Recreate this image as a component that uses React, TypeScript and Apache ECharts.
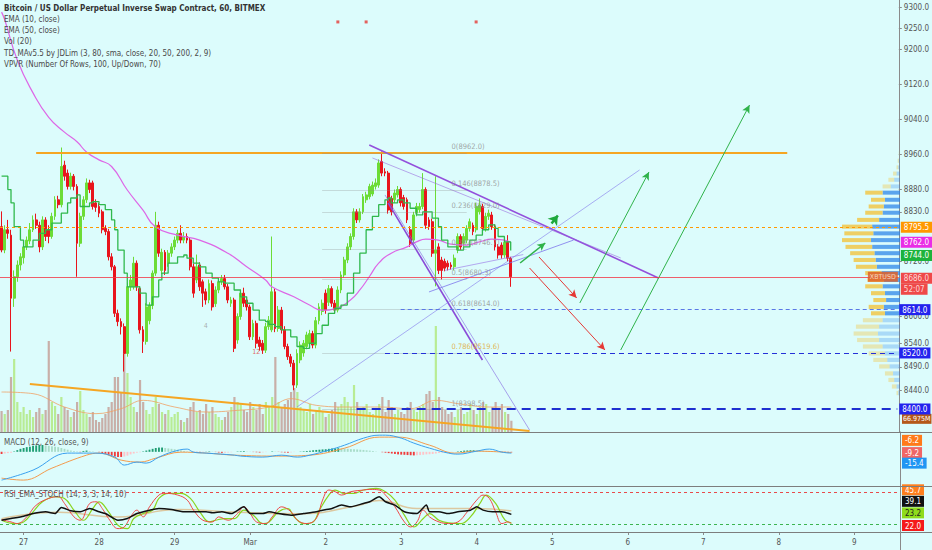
import React, { useEffect, useRef } from "react";
import * as echarts from "echarts";

const FONT = '"Liberation Sans Narrow", "DejaVu Sans Condensed", "Liberation Sans", sans-serif';
const BG = "#dcfcfc";
const AXIS = "#8a8a8a";

// ---------- axes ----------
const FIRST_HOUR = -7;
const LAST_HOUR = 278;
const DAY_LABELS = ["27", "28", "29", "Mar", "2", "3", "4", "5", "6", "7", "8", "9"];
const PRICE_TICKS = [8440, 8490, 8540, 8600, 8720, 8830, 8880, 8960, 9040, 9120, 9200, 9250, 9300];
const PRICE_MIN = 8351.2;
const PRICE_MAX = 9316.6;

// ---------- candles (hourly) ----------
const OPEN = [
  8797, 8745, 8790, 8778, 8639, 8686, 8712, 8728, 8752, 8765,
  8790, 8812, 8800, 8752, 8812, 8790, 8775, 8820, 8857, 8846,
  8935, 8917, 8887, 8910, 8887, 8760, 8820, 8857, 8895, 8895,
  8850, 8842, 8830, 8793, 8786, 8730, 8708, 8606, 8588, 8577,
  8519, 8664, 8664, 8716, 8660, 8570, 8545, 8590, 8623, 8694,
  8800, 8700, 8740, 8716, 8738, 8752, 8767, 8782, 8767, 8775,
  8767, 8708, 8679, 8712, 8675, 8653, 8635, 8671, 8627, 8657,
  8675, 8682, 8664, 8628, 8635, 8548, 8599, 8650, 8635, 8620,
  8555, 8584, 8548, 8541, 8526, 8577, 8570, 8653, 8573, 8613,
  8570, 8534, 8512, 8498, 8451, 8505, 8520, 8534, 8540, 8562,
  8537, 8590, 8610, 8650, 8630, 8660, 8628, 8613, 8657, 8690,
  8723, 8752, 8775, 8830, 8812, 8830, 8857, 8864, 8870, 8887,
  8890, 8943, 8920, 8917, 8860, 8857, 8868, 8880, 8862, 8857,
  8790, 8767, 8827, 8835, 8842, 8880, 8812, 8808, 8738, 8752,
  8723, 8720, 8716, 8712, 8708, 8745, 8775, 8760, 8767, 8793,
  8800, 8790, 8830, 8842, 8793, 8820, 8823, 8797, 8752, 8756,
  8734, 8762, 8727,
];
const CLOSE = [
  8745, 8790, 8782, 8639, 8686, 8712, 8730, 8752, 8767, 8790,
  8812, 8800, 8752, 8812, 8775, 8775, 8820, 8857, 8846, 8932,
  8910, 8887, 8910, 8887, 8760, 8820, 8857, 8895, 8880, 8842,
  8840, 8827, 8790, 8786, 8730, 8708, 8606, 8588, 8577, 8519,
  8664, 8679, 8716, 8664, 8570, 8545, 8620, 8623, 8694, 8800,
  8738, 8740, 8700, 8738, 8752, 8767, 8782, 8767, 8775, 8767,
  8708, 8650, 8708, 8664, 8650, 8635, 8671, 8620, 8657, 8675,
  8682, 8664, 8635, 8635, 8530, 8599, 8650, 8628, 8620, 8555,
  8584, 8541, 8534, 8526, 8577, 8591, 8653, 8573, 8613, 8570,
  8534, 8512, 8498, 8451, 8519, 8537, 8541, 8559, 8562, 8537,
  8590, 8620, 8628, 8613, 8660, 8628, 8613, 8657, 8690, 8723,
  8752, 8775, 8830, 8812, 8830, 8864, 8868, 8887, 8890, 8895,
  8940, 8917, 8917, 8834, 8830, 8872, 8880, 8850, 8842, 8812,
  8760, 8823, 8842, 8842, 8880, 8800, 8797, 8738, 8745, 8700,
  8700, 8705, 8708, 8708, 8727, 8775, 8752, 8775, 8793, 8808,
  8786, 8842, 8845, 8793, 8820, 8827, 8797, 8752, 8734, 8734,
  8762, 8727, 8686,
];
const HIGH = [
  8831, 8800, 8812, 8790, 8700, 8722, 8738, 8760, 8775, 8805,
  8822, 8826, 8808, 8820, 8818, 8800, 8828, 8865, 8866, 8975,
  8945, 8925, 8918, 8915, 8892, 8828, 8865, 8905, 8902, 8900,
  8858, 8850, 8835, 8800, 8792, 8738, 8712, 8614, 8595, 8584,
  8672, 8690, 8730, 8722, 8665, 8578, 8628, 8630, 8700, 8830,
  8808, 8748, 8745, 8745, 8760, 8775, 8790, 8800, 8785, 8782,
  8772, 8715, 8735, 8718, 8680, 8660, 8680, 8678, 8665, 8683,
  8690, 8690, 8670, 8642, 8640, 8606, 8658, 8662, 8642, 8625,
  8592, 8590, 8555, 8548, 8585, 8600, 8775, 8660, 8622, 8620,
  8578, 8540, 8518, 8505, 8528, 8545, 8548, 8566, 8570, 8568,
  8598, 8628, 8636, 8658, 8668, 8665, 8635, 8665, 8698, 8730,
  8760, 8782, 8838, 8836, 8838, 8870, 8875, 8893, 8898, 8905,
  8948, 8966, 8928, 8922, 8866, 8880, 8888, 8885, 8868, 8862,
  8798, 8830, 8850, 8850, 8917, 8885, 8818, 8815, 8910, 8760,
  8730, 8726, 8722, 8718, 8735, 8782, 8780, 8782, 8800, 8815,
  8806, 8850, 8860, 8848, 8828, 8835, 8830, 8802, 8758, 8762,
  8770, 8778, 8730,
];
const LOW = [
  8740, 8738, 8770, 8523, 8620, 8675, 8700, 8715, 8745, 8758,
  8785, 8792, 8740, 8745, 8765, 8760, 8770, 8812, 8838, 8840,
  8900, 8880, 8880, 8878, 8686, 8752, 8812, 8850, 8872, 8835,
  8830, 8818, 8782, 8778, 8722, 8700, 8598, 8578, 8560, 8480,
  8512, 8655, 8658, 8655, 8562, 8520, 8538, 8582, 8615, 8688,
  8730, 8692, 8690, 8708, 8730, 8745, 8760, 8760, 8760, 8760,
  8700, 8640, 8672, 8655, 8620, 8625, 8628, 8612, 8620, 8650,
  8668, 8658, 8628, 8620, 8522, 8540, 8592, 8620, 8612, 8548,
  8548, 8530, 8525, 8518, 8520, 8570, 8565, 8565, 8566, 8562,
  8528, 8505, 8490, 8440, 8445, 8498, 8512, 8528, 8535, 8530,
  8530, 8582, 8602, 8605, 8622, 8620, 8605, 8608, 8650, 8684,
  8716, 8745, 8768, 8805, 8806, 8825, 8850, 8858, 8865, 8880,
  8884, 8910, 8910, 8826, 8822, 8850, 8862, 8842, 8835, 8805,
  8752, 8760, 8820, 8828, 8836, 8792, 8790, 8730, 8665, 8692,
  8680, 8698, 8700, 8702, 8700, 8738, 8745, 8752, 8760, 8786,
  8778, 8784, 8824, 8786, 8786, 8812, 8790, 8744, 8726, 8726,
  8728, 8720, 8664,
];
// volume in millions
const VOLUME = [
  126, 108, 132, 330, 438, 180, 120, 150, 108, 132,
  90, 120, 144, 108, 132, 546, 180, 156, 108, 210,
  150, 132, 90, 120, 180, 246, 132, 108, 90, 120,
  72, 60, 84, 108, 150, 180, 330, 330, 240, 468,
  354, 210, 150, 120, 312, 180, 132, 108, 150, 210,
  168, 120, 108, 132, 90, 108, 120, 72, 60, 84,
  150, 180, 120, 132, 108, 168, 120, 150, 108, 90,
  72, 90, 120, 150, 210, 180, 168, 132, 120, 180,
  150, 132, 168, 108, 180, 150, 210, 450, 180, 150,
  168, 192, 240, 264, 240, 150, 132, 120, 168, 108,
  132, 150, 120, 90, 108, 132, 180, 150, 168, 210,
  180, 150, 282, 180, 132, 150, 168, 120, 108, 132,
  168, 210, 120, 192, 150, 108, 132, 120, 108, 150,
  180, 132, 120, 150, 168, 228, 246, 180, 636, 210,
  150, 132, 108, 120, 90, 132, 150, 108, 120, 168,
  132, 108, 150, 180, 168, 120, 150, 180, 132, 168,
  120, 108, 66.975,
];
const VOL_MA = [[0, 240], [10, 230], [20, 150], [30, 110], [38, 140], [45, 190], [55, 150], [65, 120], [75, 130], [85, 150], [92, 200], [100, 160], [110, 150], [120, 150], [130, 140], [138, 190], [145, 170], [155, 150], [162, 150]];

// ---------- indicators: [candle index, value] ----------
const EMA10 = [[0, 8910], [2, 8880], [3, 8850], [4, 8797], [6, 8767], [7, 8752], [10, 8767], [12, 8782], [14, 8790], [16, 8805], [19, 8827], [21, 8850], [22, 8861], [24, 8868], [25, 8842], [26, 8842], [28, 8850], [29, 8853], [31, 8846], [33, 8835], [35, 8812], [36, 8790], [37, 8745], [39, 8694], [40, 8664], [42, 8664], [44, 8650], [46, 8624], [47, 8624], [48, 8642], [50, 8679], [51, 8694], [53, 8716], [56, 8730], [58, 8734], [59, 8727], [61, 8716], [63, 8708], [65, 8694], [67, 8683], [69, 8675], [71, 8672], [74, 8657], [76, 8642], [78, 8628], [80, 8613], [82, 8591], [84, 8588], [85, 8582], [87, 8577], [89, 8570], [92, 8555], [94, 8534], [96, 8530], [98, 8541], [100, 8562], [102, 8580], [104, 8606], [106, 8617], [108, 8624], [110, 8650], [112, 8694], [114, 8738], [116, 8790], [118, 8820], [120, 8846], [122, 8857], [123, 8861], [124, 8850], [126, 8857], [128, 8850], [130, 8838], [132, 8823], [134, 8830], [136, 8830], [137, 8816], [139, 8797], [140, 8767], [142, 8752], [145, 8745], [147, 8752], [149, 8767], [151, 8778], [153, 8790], [155, 8801], [157, 8793], [158, 8775], [160, 8763], [162, 8744]];
const EMA50 = [[0, 9288], [1, 9270], [5, 9176], [10, 9100], [15, 9044], [20, 9010], [24, 8988], [27, 8965], [31, 8947], [35, 8932], [40, 8879], [45, 8834], [49, 8796], [56, 8778], [63, 8767], [72, 8738], [78, 8708], [84, 8679], [86, 8664], [93, 8642], [98, 8624], [102, 8613], [107, 8618], [111, 8635], [114, 8657], [117, 8686], [120, 8716], [124, 8738], [129, 8752], [132, 8763], [135, 8769], [139, 8767], [143, 8758], [148, 8756], [152, 8763], [156, 8769], [160, 8767], [162, 8762]];
const MACD = [[0, -331], [10, -214], [21, -15], [26, -15], [30, -15], [36, -62], [39, -155], [43, -120], [46, -132], [50, -62], [54, -4], [59, 32], [61, -4], [65, -15], [74, -39], [76, -50], [83, -62], [89, -39], [94, -62], [98, -39], [104, 20], [109, 78], [115, 160], [120, 195], [122, 195], [127, 160], [131, 102], [136, 43], [142, -15], [145, -27], [151, 8], [155, 32], [159, -4], [162, -15.4]];
const SIGNAL = [[0, -308], [7, -331], [16, -191], [27, -39], [31, -15], [38, -97], [44, -120], [49, -74], [57, -4], [65, -15], [74, -39], [88, -50], [98, -39], [109, 43], [120, 172], [126, 172], [136, 78], [144, -15], [151, 8], [162, -9.2]];
const HIST = [
  -25, -20, -15, -10, 5, 20, 35, 45, 55, 60,
  70, 75, 80, 80, 75, 70, 65, 60, 55, 45,
  35, 25, 15, 10, 5, -5, 10, 15, 8, 5,
  2, -5, -15, -25, -35, -45, -55, -60, -60, -55,
  -45, -30, -20, -10, -5, 5, 15, 25, 35, 45,
  50, 50, 45, 40, 35, 30, 25, 15, 10, 5,
  3, -5, -8, -10, -5, 2, 5, 3, -3, -8,
  -12, -10, -8, -5, 0, 4, 6, 8, 5, 2,
  -3, -5, -8, -6, -3, 2, 5, 3, -2, -5,
  -8, -10, -6, -3, 0, 3, 6, 10, 14, 18,
  22, 25, 28, 30, 35, 38, 40, 42, 40, 38,
  35, 32, 30, 28, 25, 22, 18, 14, 10, 5,
  0, -5, -10, -15, -20, -25, -30, -33, -35, -38,
  -40, -42, -40, -38, -35, -30, -28, -25, -20, -15,
  -10, -8, -5, -2, 0, 5, 10, 14, 16, 18,
  18, 16, 14, 12, 10, 8, 5, 3, 0, -2,
  -4, -5, -6.2,
];
const STOCH_K = [[0, 29.4], [3, 25], [5, 21.9], [8, 34.4], [11, 56.3], [15, 68.8], [18, 71.9], [20, 59.4], [23, 34.4], [25, 28.1], [28, 59.4], [30, 62.5], [32, 50], [34, 31.3], [37, 12.5], [39, 15.6], [41, 34.4], [43, 46.9], [45, 34.4], [47, 53.1], [50, 75], [52, 78.1], [56, 75], [59, 65.6], [61, 46.9], [64, 28.1], [67, 25], [69, 34.4], [72, 28.1], [75, 40.6], [77, 53.1], [79, 40.6], [81, 25], [84, 21.9], [86, 34.4], [89, 53.1], [92, 43.8], [94, 28.1], [97, 21.9], [100, 31.3], [102, 65.6], [104, 84.4], [106, 81.3], [108, 75], [111, 81.3], [115, 84.4], [117, 85.6], [120, 84.4], [122, 75], [125, 53.1], [128, 25], [130, 15.6], [132, 25], [134, 46.9], [136, 34.4], [139, 25], [142, 21.9], [145, 25], [148, 43.8], [151, 65.6], [153, 75], [155, 68.8], [157, 43.8], [159, 21.9], [161, 25], [162, 22]];
const STOCH_D = [[0, 28.1], [4, 21.9], [7, 25], [10, 43.8], [13, 62.5], [17, 71.9], [20, 68.8], [23, 46.9], [26, 28.1], [29, 50], [31, 62.5], [34, 43.8], [37, 18.8], [40, 12.5], [42, 31.3], [45, 40.6], [48, 46.9], [50, 68.8], [53, 78.1], [57, 78.1], [60, 68.8], [63, 43.8], [66, 25], [68, 28.1], [71, 31.3], [74, 31.3], [77, 46.9], [80, 37.5], [83, 21.9], [85, 25], [88, 43.8], [91, 50], [93, 34.4], [96, 21.9], [99, 25], [101, 46.9], [104, 75], [106, 84.4], [109, 78.1], [112, 78.1], [115, 84.4], [119, 87.5], [122, 81.3], [125, 65.6], [128, 37.5], [131, 15.6], [134, 31.3], [136, 40.6], [139, 28.1], [142, 23.1], [146, 21.9], [149, 34.4], [152, 59.4], [154, 75], [157, 59.4], [160, 28.1], [162, 23.2]];
const RSI = [[0, 28.1], [3, 31.3], [7, 35.6], [10, 40.6], [14, 43.8], [17, 40.6], [19, 51.9], [22, 45.6], [25, 43.8], [28, 50], [31, 43.8], [33, 40.6], [37, 28.1], [40, 31.3], [43, 40.6], [47, 46.9], [50, 50], [54, 48.1], [58, 43.8], [60, 43.8], [65, 43.8], [67, 41.9], [70, 43.8], [73, 40.6], [77, 53.1], [79, 40.6], [83, 40.6], [85, 43.8], [88, 40.6], [92, 37.5], [96, 40.6], [100, 43.8], [102, 46.9], [105, 50], [108, 56.3], [111, 53.1], [115, 59.4], [117, 62.5], [120, 71.9], [122, 62.5], [125, 56.3], [128, 43.8], [132, 40.6], [135, 56.3], [136, 43.8], [139, 43.8], [142, 40.6], [145, 43.8], [149, 46.9], [151, 53.1], [153, 46.9], [156, 43.8], [159, 43.8], [162, 39.1]];
const RSI_EMA = [[0, 31], [18, 43], [37, 34], [56, 48], [75, 43], [94, 40], [113, 55], [120, 65], [132, 50], [150, 50], [162, 45.7]];

// ---------- volume profile rows: price centre, up volume, down volume, in value area ----------
const VP_PRICE = [8434, 8448, 8462, 8476, 8491, 8505, 8519, 8534, 8548, 8562, 8577, 8591, 8606, 8620, 8635, 8650, 8665, 8679, 8694, 8708, 8723, 8738, 8752, 8767, 8782, 8797, 8812, 8828, 8842, 8857, 8873, 8887, 8902, 8916, 8930, 8945, 8962];
const VP_UP = [1.5, 3, 5, 6, 9, 11, 13, 15, 18, 19, 18, 15, 13, 14, 12, 13, 15, 14, 16, 20, 21, 22, 24, 25, 23, 24, 18, 15, 14, 13, 15, 8, 5, 3, 1.5, 1, 0.5];
const VP_DOWN = [1.5, 4, 5, 7, 9, 12, 14, 17, 19, 21, 20, 17, 12, 13, 11, 12, 15, 14, 14, 18, 19, 21, 23, 25, 25, 26, 19, 15, 13, 12, 15, 7, 5, 3, 1.5, 1, 0.5];
const VP_VALUE_AREA = [0, 0, 0, 0, 0, 0, 0, 0, 0, 0, 0, 0, 1, 1, 1, 1, 1, 1, 1, 1, 1, 1, 1, 1, 1, 1, 1, 1, 1, 1, 1, 0, 0, 0, 0, 0, 0];

// ---------- drawings: [candle index, price] ----------
const ORANGE_LINES = [[[11, 8962.6], [250, 8962.6]], [[9, 8453.3], [168, 8353.2]]];
const TREND_LINES = [
  [[117, 8980.8], [209, 8683.4]],
  [[118, 8951.3], [197, 8727.5]],
  [[123, 8850], [153, 8504.9]],
  [[122, 8867.9], [168, 8355.4]],
  [[94, 8404.3], [203, 8924.1]],
  [[136, 8652.7], [182, 8767.1]],
  [[141, 8700], [166, 8735]],
];
const RED_ARROWS = [[[171, 8729.6], [183, 8639.5]], [[168, 8705.3], [192, 8526.4]]];
const GREEN_ARROWS = [[[184, 8628.6], [206, 8919.6]], [[197, 8526.4], [238, 9072]], [[165, 8716.4], [173, 8760.6]]];
const GREEN_SMALL_ARROW = [[175, 8804], [177, 8822]];
const FIB_LEVELS = [8962, 8878.5, 8829, 8746.7, 8680.3, 8614, 8519.6, 8398.5];
const FIB_TEXT = ["0(8962.0)", "0.146(8878.5)", "0.236(8829.0)", "0.382(8746.7)", "0.5(8680.3)", "0.618(8614.0)", "0.786(8519.6)", "1(8398.5)"];
const FIB_FROM = 102;
const FIB_TO = 148;
const FIB_LABEL_AT = 143;
const LEVEL_LINES = [
  { from: 127, price: 8614 },
  { from: 122, price: 8520 },
  { from: 113, price: 8400 },
];
const TD_DOTS = [[107, 9265], [116, 9265], [151, 9265]];
const TD_TEXT_POS = [[65, 8578], [81, 8522]];
const TD_TEXT = ["4", "12"];
const LAST_PRICE = 8686;
const COUNTDOWN = "52:07";
const FIB_HIGH_PRICE = 8795.5;

const LEGEND = [
  "Bitcoin / US Dollar Perpetual Inverse Swap Contract, 60, BITMEX",
  "EMA (10, close)",
  "EMA (50, close)",
  "Vol (20)",
  "TD_MAv5.5 by JDLim (3, 80, sma, close, 20, 50, 200, 2, 9)",
  "VPVR (Number Of Rows, 100, Up/Down, 70)",
];

function tag(text: string, bg: string, shift = 0, fg = "#ffffff", size = 8, pad: number[] = [2, 3, 1, 3]) {
  const E = Math.max(1, Math.abs(shift) * 2);
  let formatter = `{t|${text}}`;
  if (shift < 0) formatter = `{t|${text}}\n{e| }`;
  if (shift > 0) formatter = `{e| }\n{t|${text}}`;
  return {
    show: true,
    position: "end",
    distance: 2,
    formatter,
    rich: {
      t: { backgroundColor: bg, color: fg, fontSize: size, fontFamily: FONT, padding: pad, lineHeight: 10 },
      e: { fontSize: 1, lineHeight: E, height: E },
    },
  };
}

const hidden = { color: "rgba(0,0,0,0)", width: 1 };

function buildOption() {
  const cats = Array.from({ length: LAST_HOUR - FIRST_HOUR + 1 }, (_, k) => String(FIRST_HOUR + k));
  const isDay = (idx: number) => {
    const h = idx + FIRST_HOUR;
    return h >= 0 && h % 24 === 0;
  };
  const candles = OPEN.map((o, i) => [o, CLOSE[i], LOW[i], HIGH[i]]);
  const lastIdx = cats.length - 1;

  const seg = (a: number[], b: number[], style: any, endSymbol = "none", size: any = 7) => [
    { coord: a, symbol: "none", lineStyle: style },
    { coord: b, symbol: endSymbol, symbolSize: size },
  ];

  const trendStyles = [
    { color: "#9350dc", width: 1.6 },
    { color: "rgba(147,96,220,0.55)", width: 1 },
    { color: "#8a4ad8", width: 1.6 },
    { color: "rgba(130,100,225,0.6)", width: 1 },
    { color: "rgba(130,120,235,0.6)", width: 1 },
    { color: "rgba(120,110,235,0.75)", width: 1 },
    { color: "rgba(150,110,230,0.6)", width: 1 },
  ];

  const mainMarks: any[] = [];
  ORANGE_LINES.forEach((l) => mainMarks.push(seg(l[0], l[1], { color: "#f5a623", width: 2, type: "solid" })));
  TREND_LINES.forEach((l, k) => mainMarks.push(seg(l[0], l[1], { ...trendStyles[k], type: "solid" })));
  FIB_LEVELS.forEach((p) => mainMarks.push(seg([FIB_FROM, p], [FIB_TO, p], { color: "rgba(140,140,140,0.3)", width: 1, type: "solid" })));
  RED_ARROWS.forEach((l) => mainMarks.push(seg(l[0], l[1], { color: "#e53935", width: 1, type: "solid" }, "arrow", [6, 8])));
  GREEN_ARROWS.forEach((l, k) => mainMarks.push(seg(l[0], l[1], { color: "#2fb34a", width: k === 2 ? 1.5 : 1, type: "solid" }, "arrow", [6, 8])));
  mainMarks.push(seg(GREEN_SMALL_ARROW[0], GREEN_SMALL_ARROW[1], { color: "#1ea83c", width: 2.5, type: "solid" }, "arrow", [9, 9]));
  const levelStyles = [
    { color: "#5a78e6", width: 1, type: [4, 3] },
    { color: "#2430d8", width: 1.2, type: [5, 4] },
    { color: "#1f2fd0", width: 2.2, type: [9, 6] },
  ];
  LEVEL_LINES.forEach((l, k) =>
    mainMarks.push([
      { coord: [l.from, l.price], symbol: "none", lineStyle: levelStyles[k], label: tag(l.price.toFixed(1), "#2323ee") },
      { coord: [lastIdx, l.price], symbol: "none" },
    ])
  );
  mainMarks.push({ yAxis: FIB_HIGH_PRICE, lineStyle: { color: "#ff9800", width: 1, type: [3, 3] }, label: tag(FIB_HIGH_PRICE.toFixed(1), "#ff9800") });
  mainMarks.push({
    yAxis: LAST_PRICE,
    lineStyle: { color: "#f23645", width: 1, type: "solid", opacity: 0.8 },
    label: {
      show: true,
      position: "end",
      distance: 2,
      formatter: `{e| }\n{t|${LAST_PRICE.toFixed(1)}}\n{g| }\n{t|${COUNTDOWN}}`,
      rich: {
        t: { backgroundColor: "#f41b1b", color: "#fff", fontSize: 8, fontFamily: FONT, padding: [2, 3, 1, 3], lineHeight: 10 },
        e: { fontSize: 1, lineHeight: 14, height: 14 },
        g: { fontSize: 1, lineHeight: 1, height: 1 },
      },
    },
  });
  mainMarks.push({
    yAxis: LAST_PRICE,
    lineStyle: hidden,
    label: {
      show: true,
      position: "insideEnd",
      distance: 1,
      formatter: "XBTUSD",
      backgroundColor: "rgba(222,96,40,0.85)",
      color: "#f6d3b8",
      fontSize: 7,
      fontFamily: FONT,
      padding: [2, 2, 1, 2],
    },
  });
  const lastE50 = EMA50[EMA50.length - 1][1];
  const lastE10 = EMA10[EMA10.length - 1][1];
  mainMarks.push({ yAxis: lastE50, lineStyle: hidden, label: tag(lastE50.toFixed(1), "#ea2ce6") });
  mainMarks.push({ yAxis: lastE10, lineStyle: hidden, label: tag(lastE10.toFixed(1), "#1cb33c", 5) });

  const grid = [
    { left: 0, top: 0, width: 900, height: 432 },
    { left: 0, top: 300, width: 900, height: 132 },
    { left: 0, top: 0, width: 900, height: 432 },
    { left: 0, top: 432, width: 900, height: 54 },
    { left: 0, top: 486, width: 900, height: 46 },
  ];
  const catAxis = (g: number) => ({
    type: "category",
    gridIndex: g,
    data: cats,
    boundaryGap: true,
    axisLine: { show: false },
    axisTick: g === 4 ? { show: true, interval: (i: number) => isDay(i), alignWithLabel: true, length: 3, lineStyle: { color: AXIS } } : { show: false },
    axisLabel:
      g === 4
        ? {
            show: true,
            interval: (i: number) => isDay(i),
            formatter: (v: string) => DAY_LABELS[Number(v) / 24] ?? "",
            fontSize: 8,
            color: "#555",
            fontFamily: FONT,
            margin: 6,
          }
        : { show: false },
    splitLine: { show: false },
  });
  const xAxis = [catAxis(0), catAxis(1), { type: "value", gridIndex: 2, inverse: true, min: 0, max: 776, show: false }, catAxis(3), catAxis(4)];
  const sideAxis = (g: number, min: number, max: number) => ({
    type: "value",
    gridIndex: g,
    position: "right",
    min,
    max,
    axisLine: { show: true, lineStyle: { color: AXIS } },
    axisTick: { show: false },
    axisLabel: { show: false },
    splitLine: { show: false },
  });
  const yAxis = [
    {
      type: "log",
      gridIndex: 0,
      position: "right",
      min: PRICE_MIN,
      max: PRICE_MAX,
      axisLine: { show: true, lineStyle: { color: AXIS } },
      axisTick: { show: true, customValues: PRICE_TICKS, length: 3, lineStyle: { color: AXIS } },
      axisLabel: { show: true, customValues: PRICE_TICKS, formatter: (v: number) => Number(v).toFixed(1), fontSize: 8, color: "#555", fontFamily: FONT, margin: 5 },
      splitLine: { show: false },
    },
    { type: "value", gridIndex: 1, min: 0, max: 792, show: false },
    { type: "log", gridIndex: 2, min: PRICE_MIN, max: PRICE_MAX, show: false },
    sideAxis(3, -400, 232),
    sideAxis(4, 6.2, 91.9),
  ];

  const series: any[] = [
    {
      type: "custom",
      name: "vpvr",
      xAxisIndex: 2,
      yAxisIndex: 2,
      z: 1,
      silent: true,
      encode: { x: 1, y: 0 },
      data: VP_PRICE.map((p, i) => [p, VP_UP[i], VP_DOWN[i], VP_VALUE_AREA[i]]),
      renderItem: (params: any, api: any) => {
        const pc = api.value(0);
        const up = api.value(1);
        const dn = api.value(2);
        const va = api.value(3);
        const x0 = api.coord([0, pc])[0];
        const x1 = api.coord([up, pc])[0];
        const x2 = api.coord([up + dn, pc])[0];
        const yT = api.coord([0, pc + 4.5])[1];
        const yB = api.coord([0, pc - 4.5])[1];
        const blue = va ? "rgba(40,130,232,0.72)" : "rgba(40,130,232,0.28)";
        const yel = va ? "rgba(244,192,50,0.75)" : "rgba(244,192,50,0.35)";
        return {
          type: "group",
          children: [
            { type: "rect", shape: { x: x1, y: yT, width: x0 - x1, height: yB - yT }, style: { fill: blue } },
            { type: "rect", shape: { x: x2, y: yT, width: x1 - x2, height: yB - yT }, style: { fill: yel } },
          ],
        };
      },
    },
    {
      type: "bar",
      name: "volume",
      xAxisIndex: 1,
      yAxisIndex: 1,
      barWidth: "70%",
      z: 1,
      data: VOLUME,
      itemStyle: { color: (p: any) => (CLOSE[p.dataIndex] >= OPEN[p.dataIndex] ? "#b8ec94" : "#c8afa8") },
      markLine: {
        symbol: "none",
        silent: true,
        data: [{ yAxis: VOLUME[VOLUME.length - 1], lineStyle: hidden, label: tag("66.975M", "#b5581a", -2, "#ffffff", 7, [2, 1, 1, 1]) }],
      },
    },
    {
      type: "line",
      name: "volMA",
      xAxisIndex: 1,
      yAxisIndex: 1,
      data: VOL_MA,
      symbol: "none",
      smooth: 0.4,
      lineStyle: { color: "rgba(240,160,100,0.8)", width: 1 },
      z: 2,
    },
    {
      type: "candlestick",
      name: "XBTUSD",
      xAxisIndex: 0,
      yAxisIndex: 0,
      data: candles,
      barWidth: "76%",
      z: 3,
      itemStyle: { color: "#6cdc36", color0: "#e8141c", borderColor: "#6cdc36", borderColor0: "#e8141c", borderWidth: 1 },
      markLine: { symbol: "none", silent: true, label: { show: false }, data: mainMarks },
    },
    {
      type: "line",
      name: "EMA50",
      xAxisIndex: 0,
      yAxisIndex: 0,
      data: EMA50,
      symbol: "none",
      smooth: 0.5,
      lineStyle: { color: "#dd66e6", width: 1.2 },
      z: 4,
    },
    {
      type: "line",
      name: "EMA10",
      xAxisIndex: 0,
      yAxisIndex: 0,
      data: EMA10,
      symbol: "none",
      step: "end",
      lineStyle: { color: "#2fb84c", width: 1.3 },
      z: 4,
    },
    {
      type: "scatter",
      name: "td",
      xAxisIndex: 0,
      yAxisIndex: 0,
      data: TD_DOTS,
      symbol: "rect",
      symbolSize: 3,
      itemStyle: { color: "#e53935" },
      z: 4,
    },
    {
      type: "scatter",
      name: "tdText",
      xAxisIndex: 0,
      yAxisIndex: 0,
      symbolSize: 1,
      itemStyle: { color: "rgba(0,0,0,0)" },
      z: 5,
      data: TD_TEXT_POS.map((v, k) => ({ name: TD_TEXT[k], value: v, label: { color: k === 0 ? "#9a9a9a" : "#e04040" } })),
      label: { show: true, position: "inside", formatter: "{b}", fontSize: 7, fontFamily: FONT },
    },
    {
      type: "scatter",
      name: "fib",
      xAxisIndex: 0,
      yAxisIndex: 0,
      symbolSize: 1,
      itemStyle: { color: "rgba(0,0,0,0)" },
      z: 5,
      data: FIB_LEVELS.map((p, k) => ({
        name: FIB_TEXT[k],
        value: [FIB_LABEL_AT, p],
        label: { color: k === 6 ? "#e0a21c" : "#8e8e8e" },
      })),
      label: { show: true, position: [1, -10], formatter: "{b}", fontSize: 7.5, fontFamily: FONT, color: "#8e8e8e" },
    },
    {
      type: "bar",
      name: "hist",
      xAxisIndex: 3,
      yAxisIndex: 3,
      barWidth: "60%",
      data: HIST,
      itemStyle: {
        color: (p: any) => {
          const v = HIST[p.dataIndex];
          const prev = p.dataIndex > 0 ? HIST[p.dataIndex - 1] : v;
          if (v >= 0) return v >= prev ? "#1f9e74" : "#a8dcc8";
          return v <= prev ? "#f03c3c" : "#ffc4c8";
        },
      },
    },
    {
      type: "line",
      name: "signal",
      xAxisIndex: 3,
      yAxisIndex: 3,
      data: SIGNAL,
      symbol: "none",
      smooth: 0.4,
      lineStyle: { color: "#f39a4c", width: 1 },
    },
    {
      type: "line",
      name: "macd",
      xAxisIndex: 3,
      yAxisIndex: 3,
      data: MACD,
      symbol: "none",
      smooth: 0.4,
      lineStyle: { color: "#3aa0ee", width: 1 },
      markLine: {
        symbol: "none",
        silent: true,
        data: [
          { yAxis: HIST[HIST.length - 1], lineStyle: hidden, label: tag("-6.2", "#ff7a1a", -12) },
          { yAxis: SIGNAL[SIGNAL.length - 1][1], lineStyle: hidden, label: tag("-9.2", "#f06666", 0) },
          { yAxis: MACD[MACD.length - 1][1], lineStyle: hidden, label: tag("-15.4", "#2196f3", 10) },
        ],
      },
    },
    {
      type: "line",
      name: "rsiEma",
      xAxisIndex: 4,
      yAxisIndex: 4,
      data: RSI_EMA,
      symbol: "none",
      smooth: 0.5,
      lineStyle: { color: "#dcc8a0", width: 1.5 },
    },
    {
      type: "line",
      name: "stochD",
      xAxisIndex: 4,
      yAxisIndex: 4,
      data: STOCH_D,
      symbol: "none",
      smooth: 0.4,
      lineStyle: { color: "#8ad41e", width: 1.2 },
    },
    {
      type: "line",
      name: "stochK",
      xAxisIndex: 4,
      yAxisIndex: 4,
      data: STOCH_K,
      symbol: "none",
      smooth: 0.4,
      lineStyle: { color: "#ef4848", width: 1 },
      markLine: {
        symbol: "none",
        silent: true,
        data: [
          { yAxis: 80, lineStyle: { color: "#e84a4a", width: 1, type: [3, 3] }, label: { show: false } },
          { yAxis: 20, lineStyle: { color: "#3cb450", width: 1, type: [3, 3] }, label: { show: false } },
          { yAxis: RSI_EMA[RSI_EMA.length - 1][1], lineStyle: hidden, label: tag("45.7", "#ff7f1e", -21) },
          { yAxis: RSI[RSI.length - 1][1], lineStyle: hidden, label: tag("39.1", "#111111", -13) },
          { yAxis: STOCH_D[STOCH_D.length - 1][1], lineStyle: hidden, label: tag("23.2", "#8fdc1c", -10, "#222") },
          { yAxis: STOCH_K[STOCH_K.length - 1][1], lineStyle: hidden, label: tag("22.0", "#f41b1b", 2) },
        ],
      },
    },
    {
      type: "line",
      name: "rsi",
      xAxisIndex: 4,
      yAxisIndex: 4,
      data: RSI,
      symbol: "none",
      smooth: 0.2,
      lineStyle: { color: "#111111", width: 1.5 },
    },
  ];

  const legendTexts: any[] = LEGEND.map((t, k) => ({
    type: "text",
    left: 4,
    top: 4 + k * 11.3,
    z: 50,
    style: { text: t, fontSize: 8, fontFamily: FONT, fill: k === 0 ? "#333" : "#4a4a4a", fontWeight: k === 0 ? "bold" : "normal" },
  }));
  const graphic = [
    ...legendTexts,
    { type: "text", left: 4, top: 438, z: 50, style: { text: "MACD (12, 26, close, 9)", fontSize: 8, fontFamily: FONT, fill: "#555" } },
    { type: "text", left: 4, top: 490, z: 50, style: { text: "RSI_EMA_STOCH (14, 3, 3, 14, 10)", fontSize: 8, fontFamily: FONT, fill: "#555" } },
    { type: "line", z: 60, shape: { x1: 0, y1: 432.5, x2: 932, y2: 432.5 }, style: { stroke: "#7d7d7d", lineWidth: 1 } },
    { type: "line", z: 60, shape: { x1: 0, y1: 486.5, x2: 932, y2: 486.5 }, style: { stroke: "#7d7d7d", lineWidth: 1 } },
    { type: "line", z: 60, shape: { x1: 0, y1: 532.5, x2: 932, y2: 532.5 }, style: { stroke: "#7d7d7d", lineWidth: 1 } },
    { type: "line", z: 60, shape: { x1: 900.5, y1: 532, x2: 900.5, y2: 550 }, style: { stroke: AXIS, lineWidth: 1 } },
  ];

  return {
    animation: false,
    backgroundColor: BG,
    grid,
    xAxis,
    yAxis,
    series,
    graphic,
  };
}

export default function App() {
  const ref = useRef<HTMLDivElement>(null);
  useEffect(() => {
    if (!ref.current) return;
    const chart = echarts.init(ref.current, null, { renderer: "svg" });
    chart.setOption(buildOption() as any);
    return () => chart.dispose();
  }, []);
  return <div ref={ref} style={{ position: "fixed", left: 0, top: 0, width: 932, height: 550, background: BG }} />;
}
